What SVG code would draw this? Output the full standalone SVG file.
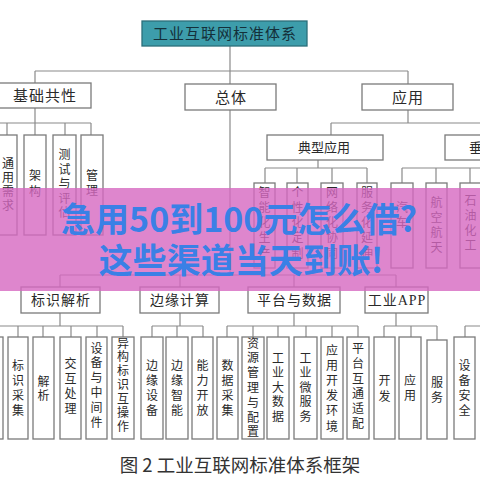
<svg xmlns="http://www.w3.org/2000/svg" width="480" height="480" viewBox="0 0 480 480">
<style>
.box{fill:#ffffff;stroke:#7a7a7a;stroke-width:1.3}
.ttl{fill:#3d9dab;stroke:#2b6f7a;stroke-width:1.3}
.ln{stroke:#8a8a8a;stroke-width:1.2;fill:none}
.t{font-family:"Liberation Serif","Noto Sans CJK SC",serif;fill:#2a2a2a;text-anchor:middle}
.l1{font-size:15px;letter-spacing:1px}
.l2{font-size:14px;letter-spacing:1px}
.l3{font-size:13px}
.v{font-size:12px}
.cap{font-family:"Noto Sans CJK SC","Noto Sans",sans-serif;font-size:18.5px;fill:#333333;text-anchor:middle}
.ban{font-family:"Noto Sans CJK SC","Noto Sans",sans-serif;font-size:34px;font-weight:700;fill:#3a80e6;text-anchor:middle}
</style>

<rect x="0" y="0" width="480" height="480" fill="#ffffff"/>

<g id="connectors">
<path class="ln" d="M230,46 V275 M35,71 H408 M35,71 V83 M408,71 V84"/>
<path class="ln" d="M35,108 V123 M0,123 H91 M7,123 V135 M35,123 V135 M65,123 V135 M91,123 V135"/>
<path class="ln" d="M408,110 V123 M331,123 H480 M331,123 V135"/>
<path class="ln" d="M318,160 V168 M265,168 H367 M265,168 V183 M297,168 V183 M332,168 V183 M367,168 V183"/>
<path class="ln" d="M402,168 H480 M402,168 V183 M436,168 V183 M470,168 V183"/>
<path class="ln" d="M60,275 H396 M60,275 V287 M180,275 V287 M294,275 V287 M396,275 V287"/>
<path class="ln" d="M60,313 V326 M0,326 H123 M18,326 V337 M43,326 V337 M71,326 V337 M97,326 V337 M123,326 V337"/>
<path class="ln" d="M180,313 V326 M152,326 H203 M152,326 V337 M177,326 V337 M203,326 V337"/>
<path class="ln" d="M294,313 V326 M227,326 H358 M227,326 V337 M253,326 V337 M278,326 V337 M306,326 V337 M332,326 V337 M358,326 V337"/>
<path class="ln" d="M396,313 V326 M384,326 H437 M384,326 V337 M411,326 V337 M437,326 V340"/>
<path class="ln" d="M465,326 H480 M465,326 V337"/>
</g>

<g id="n-root"><rect class="ttl" x="142" y="21" width="165" height="25"/><text class="t l1" x="225" y="39" style="fill:#14303a">工业互联网标准体系</text></g>

<g id="n-jichu"><rect class="box" x="-2" y="83" width="93" height="25"/><text class="t l1" x="45" y="101">基础共性</text></g>
<g id="n-zongti"><rect class="box" x="185" y="84" width="91" height="26"/><text class="t l1" x="231" y="102.5">总体</text></g>
<g id="n-yingyong"><rect class="box" x="362" y="84" width="91" height="26"/><text class="t l1" x="408" y="102.5">应用</text></g>

<g id="n-tongyong"><rect class="box" x="-3" y="135" width="20" height="100"/><text class="t v" x="8"><tspan x="8" y="168">通</tspan><tspan x="8" dy="14">用</tspan><tspan x="8" dy="14">需</tspan><tspan x="8" dy="14">求</tspan></text></g>
<g id="n-jiagou"><rect class="box" x="24" y="135" width="22" height="100"/><text class="t v"><tspan x="35" y="180">架</tspan><tspan x="35" dy="16">构</tspan></text></g>
<g id="n-ceshi"><rect class="box" x="53" y="135" width="23" height="100"/><text class="t v"><tspan x="64.5" y="159">测</tspan><tspan x="64.5" dy="14.5">试</tspan><tspan x="64.5" dy="14.5">与</tspan><tspan x="64.5" dy="14.5">评</tspan><tspan x="64.5" dy="14.5">估</tspan></text></g>
<g id="n-guanli"><rect class="box" x="81" y="135" width="22" height="100"/><text class="t v"><tspan x="92" y="179.5">管</tspan><tspan x="92" dy="15">理</tspan></text></g>

<g id="n-dianxing"><rect class="box" x="267" y="135" width="116" height="25"/><text class="t l3" x="324" y="152">典型应用</text></g>
<g id="n-chuizhi"><rect class="box" x="445" y="135" width="60" height="25"/><text class="t l3" x="469" y="152" style="text-anchor:start">垂直行业应用</text></g>

<g id="n-zhineng"><rect class="box" x="254" y="183" width="21" height="85"/><text class="t v"><tspan x="264.5" y="196.5">智</tspan><tspan x="264.5" dy="15.3">能</tspan><tspan x="264.5" dy="15.3">化</tspan><tspan x="264.5" dy="15.3">生</tspan><tspan x="264.5" dy="15.3">产</tspan></text></g>
<g id="n-gexing"><rect class="box" x="287" y="183" width="21" height="85"/><text class="t v"><tspan x="297.5" y="196.5">个</tspan><tspan x="297.5" dy="15.3">性</tspan><tspan x="297.5" dy="15.3">化</tspan><tspan x="297.5" dy="15.3">定</tspan><tspan x="297.5" dy="15.3">制</tspan></text></g>
<g id="n-wangluo"><rect class="box" x="321" y="183" width="22" height="85"/><text class="t v"><tspan x="332" y="196.5">网</tspan><tspan x="332" dy="15.3">络</tspan><tspan x="332" dy="15.3">化</tspan><tspan x="332" dy="15.3">协</tspan><tspan x="332" dy="15.3">同</tspan></text></g>
<g id="n-fuwuhua"><rect class="box" x="357" y="183" width="20" height="85"/><text class="t v"><tspan x="367" y="196.5">服</tspan><tspan x="367" dy="15.3">务</tspan><tspan x="367" dy="15.3">化</tspan><tspan x="367" dy="15.3">延</tspan><tspan x="367" dy="15.3">伸</tspan></text></g>
<g id="n-qiche"><rect class="box" x="391" y="183" width="22" height="85"/><text class="t v"><tspan x="402" y="211.5">汽</tspan><tspan x="402" dy="15">车</tspan></text></g>
<g id="n-hangkong"><rect class="box" x="426" y="183" width="21" height="85"/><text class="t v"><tspan x="436.5" y="206.5">航</tspan><tspan x="436.5" dy="15">空</tspan><tspan x="436.5" dy="15">航</tspan><tspan x="436.5" dy="15">天</tspan></text></g>
<g id="n-shiyou"><rect class="box" x="460" y="183" width="21" height="85"/><text class="t v"><tspan x="470.5" y="204.5">石</tspan><tspan x="470.5" dy="15">油</tspan><tspan x="470.5" dy="15">化</tspan><tspan x="470.5" dy="15">工</tspan></text></g>

<g id="n-biaoshi"><rect class="box" x="21" y="287" width="79" height="26"/><text class="t l2" x="61" y="305">标识解析</text></g>
<g id="n-bianyuan"><rect class="box" x="140" y="287" width="79" height="26"/><text class="t l2" x="180" y="305">边缘计算</text></g>
<g id="n-pingtai"><rect class="box" x="248" y="287" width="92" height="26"/><text class="t l2" x="294.5" y="305">平台与数据</text></g>
<g id="n-app"><rect class="box" x="365" y="287" width="63" height="26"/><text class="t l2" x="397" y="305">工业APP</text></g>

<g id="n-b0"><rect class="box" x="-18" y="337" width="21" height="102"/></g>
<g id="n-caiji"><rect class="box" x="8" y="337" width="20" height="102"/><text class="t v"><tspan x="18" y="369.5">标</tspan><tspan x="18" dy="15">识</tspan><tspan x="18" dy="15">采</tspan><tspan x="18" dy="15">集</tspan></text></g>
<g id="n-jiexi"><rect class="box" x="33" y="337" width="21" height="102"/><text class="t v"><tspan x="43.5" y="385.5">解</tspan><tspan x="43.5" dy="14">析</tspan></text></g>
<g id="n-jiaohu"><rect class="box" x="60" y="337" width="21" height="102"/><text class="t v"><tspan x="70.5" y="368">交</tspan><tspan x="70.5" dy="15">互</tspan><tspan x="70.5" dy="15">处</tspan><tspan x="70.5" dy="15">理</tspan></text></g>
<g id="n-shebei"><rect class="box" x="86" y="337" width="21" height="102"/><text class="t v"><tspan x="96.5" y="352.5">设</tspan><tspan x="96.5" dy="14.8">备</tspan><tspan x="96.5" dy="14.8">与</tspan><tspan x="96.5" dy="14.8">中</tspan><tspan x="96.5" dy="14.8">间</tspan><tspan x="96.5" dy="14.8">件</tspan></text></g>
<g id="n-yigou"><rect class="box" x="112" y="337" width="22" height="102"/><text class="t v"><tspan x="123" y="347.5">异</tspan><tspan x="123" dy="13.9">构</tspan><tspan x="123" dy="13.9">标</tspan><tspan x="123" dy="13.9">识</tspan><tspan x="123" dy="13.9">互</tspan><tspan x="123" dy="13.9">操</tspan><tspan x="123" dy="13.9">作</tspan></text></g>

<g id="n-bysb"><rect class="box" x="141" y="337" width="22" height="102"/><text class="t v"><tspan x="152" y="369.5">边</tspan><tspan x="152" dy="15">缘</tspan><tspan x="152" dy="15">设</tspan><tspan x="152" dy="15">备</tspan></text></g>
<g id="n-byzn"><rect class="box" x="166" y="337" width="22" height="102"/><text class="t v"><tspan x="177" y="369.5">边</tspan><tspan x="177" dy="15">缘</tspan><tspan x="177" dy="15">智</tspan><tspan x="177" dy="15">能</tspan></text></g>
<g id="n-nlkf"><rect class="box" x="192" y="337" width="21" height="102"/><text class="t v"><tspan x="202.5" y="369.5">能</tspan><tspan x="202.5" dy="15">力</tspan><tspan x="202.5" dy="15">开</tspan><tspan x="202.5" dy="15">放</tspan></text></g>

<g id="n-sjcj"><rect class="box" x="217" y="337" width="21" height="102"/><text class="t v"><tspan x="227.5" y="369.5">数</tspan><tspan x="227.5" dy="15">据</tspan><tspan x="227.5" dy="15">采</tspan><tspan x="227.5" dy="15">集</tspan></text></g>
<g id="n-zygl"><rect class="box" x="242" y="337" width="22" height="102"/><text class="t v"><tspan x="253" y="347.5">资</tspan><tspan x="253" dy="14.8">源</tspan><tspan x="253" dy="14.8">管</tspan><tspan x="253" dy="14.8">理</tspan><tspan x="253" dy="14.8">与</tspan><tspan x="253" dy="14.8">配</tspan><tspan x="253" dy="14.8">置</tspan></text></g>
<g id="n-gydsj"><rect class="box" x="267" y="337" width="22" height="102"/><text class="t v"><tspan x="278" y="362.5">工</tspan><tspan x="278" dy="14.5">业</tspan><tspan x="278" dy="14.5">大</tspan><tspan x="278" dy="14.5">数</tspan><tspan x="278" dy="14.5">据</tspan></text></g>
<g id="n-gywfw"><rect class="box" x="294" y="337" width="23" height="102"/><text class="t v"><tspan x="305.5" y="362.5">工</tspan><tspan x="305.5" dy="14.5">业</tspan><tspan x="305.5" dy="14.5">微</tspan><tspan x="305.5" dy="14.5">服</tspan><tspan x="305.5" dy="14.5">务</tspan></text></g>
<g id="n-yykf"><rect class="box" x="321" y="337" width="22" height="102"/><text class="t v"><tspan x="332" y="354.5">应</tspan><tspan x="332" dy="15.2">用</tspan><tspan x="332" dy="15.2">开</tspan><tspan x="332" dy="15.2">发</tspan><tspan x="332" dy="15.2">环</tspan><tspan x="332" dy="15.2">境</tspan></text></g>
<g id="n-ptht"><rect class="box" x="347" y="337" width="22" height="102"/><text class="t v"><tspan x="358" y="352.5">平</tspan><tspan x="358" dy="15">台</tspan><tspan x="358" dy="15">互</tspan><tspan x="358" dy="15">通</tspan><tspan x="358" dy="15">适</tspan><tspan x="358" dy="15">配</tspan></text></g>

<g id="n-kaifa"><rect class="box" x="374" y="337" width="21" height="102"/><text class="t v"><tspan x="384.5" y="384.5">开</tspan><tspan x="384.5" dy="16">发</tspan></text></g>
<g id="n-yy2"><rect class="box" x="399" y="337" width="22" height="102"/><text class="t v"><tspan x="410" y="384.5">应</tspan><tspan x="410" dy="15">用</tspan></text></g>
<g id="n-fuwu"><rect class="box" x="427" y="340" width="20" height="99"/><text class="t v"><tspan x="437" y="386.5">服</tspan><tspan x="437" dy="15">务</tspan></text></g>
<g id="n-sbaq"><rect class="box" x="454" y="337" width="21" height="102"/><text class="t v"><tspan x="464.5" y="369.5">设</tspan><tspan x="464.5" dy="15">备</tspan><tspan x="464.5" dy="15">安</tspan><tspan x="464.5" dy="15">全</tspan></text></g>

<text class="cap" x="240" y="472">图 2 工业互联网标准体系框架</text>

<g id="banner">
<rect x="0" y="188" width="480" height="103" fill="#d668c0" fill-opacity="0.8"/>
<text class="ban" x="239" y="232">急用50到100元怎么借?</text>
<text class="ban" x="241" y="273">这些渠道当天到账!</text>
</g>
</svg>
